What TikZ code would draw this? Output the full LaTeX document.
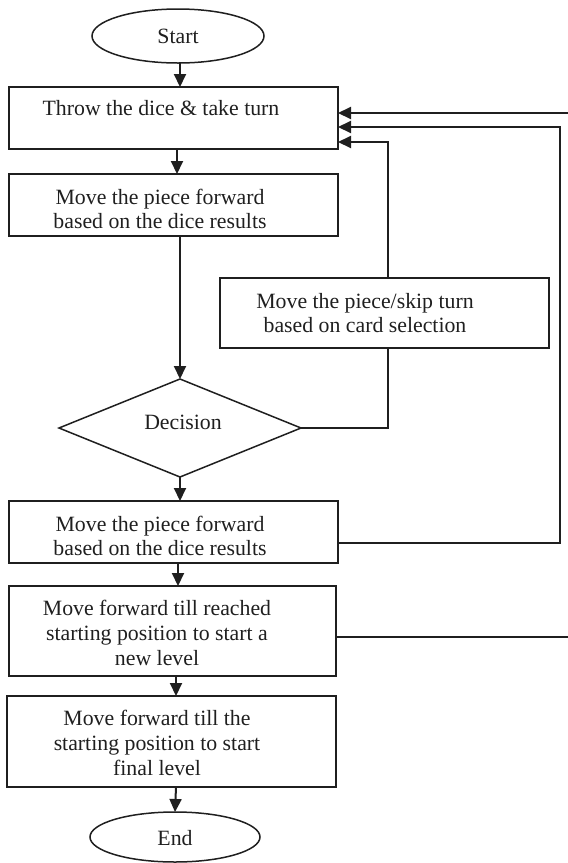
\documentclass[tikz,border=0pt]{standalone}
\usepackage{fontspec}
\setmainfont{Liberation Serif}
\usetikzlibrary{arrows.meta,shapes.geometric}
\begin{document}
\begin{tikzpicture}[x=1pt,y=-1pt,
  every node/.style={inner sep=0pt,outer sep=0pt},
  stepbox/.style={draw=black!88,line width=1.5pt,rectangle,minimum width=329pt},
  termbox/.style={draw=black!88,line width=1.5pt,ellipse},
  decbox/.style={draw=black!88,line width=1.5pt,diamond,minimum width=242pt,minimum height=98pt},
  txt/.style={font=\fontsize{21.8}{24.6}\selectfont,align=center,text=black!88},
  conn/.style={draw=black!88,line width=2pt},
  arr/.style={conn,-{Triangle[length=13pt,width=12pt]}}]
\useasboundingbox (0,0) rectangle (568,863);

% shapes
\node[termbox,minimum width=172pt,minimum height=54pt] (start) at (178,36) {};
\node[stepbox,minimum height=62pt] (b1) at (173.5,118) {};
\node[stepbox,minimum height=62pt] (b2) at (173.5,205) {};
\node[stepbox,minimum height=70pt] (card) at (384.5,313) {};
\node[decbox] (dec) at (180,428) {};
\node[stepbox,minimum height=62pt] (b3) at (173.5,532) {};
\node[stepbox,minimum width=327pt,minimum height=90pt] (b4) at (172.5,631) {};
\node[stepbox,minimum width=329pt,minimum height=91pt] (b5) at (171.5,741.5) {};
\node[termbox,minimum width=170pt,minimum height=50pt] (end) at (175,837) {};

% texts
\node[txt] (tstart) at (178,36) {Start};
\node[txt] (t1) at (161,108) {Throw the dice \& take turn};
\node[txt] (t2) at (160,209) {Move the piece forward\\based on the dice results};
\node[txt] (tcard) at (365,313) {Move the piece/skip turn\\based on card selection};
\node[txt] (tdec) at (183,422) {Decision};
\node[txt] (t3) at (160,536) {Move the piece forward\\based on the dice results};
\node[txt] (t4) at (157,633) {Move forward till reached\\starting position to start a\\new level};
\node[txt] (t5) at (157,743) {Move forward till the\\starting position to start\\final level};
\node[txt] (tend) at (175,838) {End};

% connectors
\draw[arr] ([xshift=2pt]start.south) -- ([xshift=2pt]start.south |- b1.north);
\draw[arr] ([xshift=3.5pt]b1.south) -- ([xshift=3.5pt]b2.north);
\draw[arr] (dec.north |- b2.south) -- (dec.north);
\draw[conn] (dec.east) -| ([xshift=3.5pt]card.south);
\draw[arr] ([xshift=3.5pt]card.north) |- ([yshift=-24pt]b1.east);
\draw[arr] (dec.south) -- (dec.south |- b3.north);
\draw[arr] ([yshift=-11pt]b3.east) -| (560,300) |- ([yshift=-9pt]b1.east);
\draw[arr] ([xshift=4.5pt]b3.south) -- ([xshift=5.5pt]b4.north);
\draw[arr] ([yshift=-6pt]b4.east) -| (573,300) |- ([yshift=5pt]b1.east);
\draw[arr] ([xshift=3.5pt]b4.south) -- ([xshift=4.5pt]b5.north);
\draw[arr] ([xshift=4.5pt]b5.south) -- (end.north);
\end{tikzpicture}
\end{document}
